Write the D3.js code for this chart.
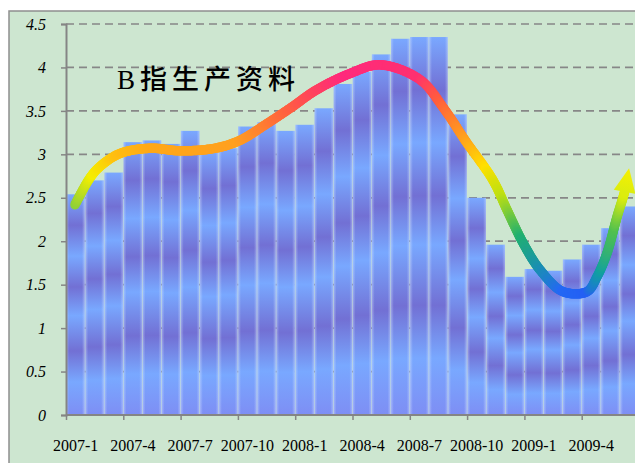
<!DOCTYPE html>
<html>
<head>
<meta charset="utf-8">
<script src="https://cdn.jsdelivr.net/npm/d3@7"></script>
<style>
  body { margin: 0; background: #fff; }
  svg { display: block; }
</style>
</head>
<body>
<div id="chart"></div>
<script>
// months shown on the x axis (one bar each)
var months = ["2007-1","2007-2","2007-3","2007-4","2007-5","2007-6","2007-7","2007-8","2007-9",
  "2007-10","2007-11","2007-12","2008-1","2008-2","2008-3","2008-4","2008-5","2008-6",
  "2008-7","2008-8","2008-9","2008-10","2008-11","2008-12","2009-1","2009-2","2009-3",
  "2009-4","2009-5","2009-6"];

// bar heights
var values = [2.54, 2.70, 2.79, 3.14, 3.16, 3.12, 3.27, 3.03, 3.07,
  3.32, 3.37, 3.27, 3.34, 3.53, 3.81, 3.95, 4.15, 4.33,
  4.35, 4.35, 3.46, 2.50, 1.96, 1.59, 1.68, 1.66, 1.79,
  1.96, 2.15, 2.40];

var yTicks = [0, 0.5, 1, 1.5, 2, 2.5, 3, 3.5, 4, 4.5];

// hand drawn trend arrow: [month position, value]
var trendPos = [0.47, 1.26, 1.78, 2.83, 4.4, 6.0, 7.8, 9.1, 10.5, 11.8, 13.1, 14.87, 16.44,
  18.53, 19.84, 20.9, 22.36, 23.09, 23.93, 24.82, 26.02, 27.28, 27.8, 28.32, 28.85, 29.27, 29.48];
var trendVal = [2.42, 2.73, 2.86, 3.01, 3.07, 3.04, 3.07, 3.16, 3.35, 3.54, 3.74, 3.93, 4.03,
  3.86, 3.51, 3.16, 2.7, 2.36, 1.98, 1.67, 1.42, 1.42, 1.59, 1.86, 2.28, 2.59, 2.84];

// rainbow colours along the arrow
var colorPos = [0.47, 1.4, 2.6, 4.5, 9, 11.7, 13.2, 14.6, 18.5, 19.5, 20.8, 22, 22.8, 23.8, 24.8, 26, 27.3, 28, 28.7, 29.2, 29.5];
var colorVal = ["#8ccf3a","#f5ef00","#ffc010","#ffa818","#ffa020","#ff6040","#ff4060","#ff2a7c","#ff3070",
  "#ff5a40","#ff9a20","#ffe000","#c0e010","#20b070","#1a90b0","#2468f4","#2460f4","#10a0a0","#50c050","#d8ec10","#f8f000"];

var W = 635, H = 463;
var left = 66, top0 = 24, bottom = 415, bandW = 19.1;

var svg = d3.select("#chart").append("svg")
  .attr("width", W).attr("height", H);

var defs = svg.append("defs");

// bar texture: stretched horizontal bands
var g1 = defs.append("linearGradient").attr("id", "barFill")
  .attr("x1", 0).attr("y1", 1).attr("x2", 0).attr("y2", 0);
[[0, "#7e8ef4"], [0.15, "#79a8ff"], [0.29, "#7270d4"], [0.45, "#79a8ff"], [0.58, "#7270d4"],
 [0.72, "#79a8ff"], [0.86, "#7270d4"], [1, "#7aa8ff"]].forEach(function(s) {
  g1.append("stop").attr("offset", s[0]).attr("stop-color", s[1]);
});
var g2 = defs.append("linearGradient").attr("id", "barEdge")
  .attr("x1", 0).attr("y1", 0).attr("x2", 1).attr("y2", 0);
[[0, 0.4], [0.15, 0], [0.85, 0], [1, 0.4]].forEach(function(s) {
  g2.append("stop").attr("offset", s[0]).attr("stop-color", "#dce8ff").attr("stop-opacity", s[1]);
});

// frame
svg.append("rect").attr("x", 9).attr("y", 11).attr("width", W).attr("height", H)
  .attr("fill", "#cde6d0").attr("stroke", "#8f8f8f").attr("stroke-width", 1.5);

var x = d3.scaleBand().domain(months)
  .range([left, left + months.length * bandW]).paddingInner(0.03).paddingOuter(0.015);
var xi = d3.scaleLinear().domain([0, months.length]).range([left, left + months.length * bandW]);
var y = d3.scaleLinear().domain([0, 4.5]).range([bottom, top0]);

// dashed grid
svg.append("g").selectAll("line")
  .data(yTicks.filter(function(d) { return d > 0; }))
  .enter().append("line")
  .attr("x1", left).attr("x2", W)
  .attr("y1", function(d) { return y(d); }).attr("y2", function(d) { return y(d); })
  .attr("stroke", "#878787").attr("stroke-width", 1.7)
  .attr("stroke-dasharray", "8,5");

// bars
var bars = svg.append("g");
bars.selectAll("rect.bar").data(values).enter().append("rect")
  .attr("class", "bar")
  .attr("x", function(d, i) { return x(months[i]); })
  .attr("width", x.bandwidth())
  .attr("y", function(d) { return y(d); })
  .attr("height", function(d) { return bottom - y(d); })
  .attr("fill", "url(#barFill)");
bars.selectAll("rect.edge").data(values).enter().append("rect")
  .attr("class", "edge")
  .attr("x", function(d, i) { return x(months[i]); })
  .attr("width", x.bandwidth())
  .attr("y", function(d) { return y(d); })
  .attr("height", function(d) { return bottom - y(d); })
  .attr("fill", "url(#barEdge)");

// y axis
var yAxis = svg.append("g").attr("transform", "translate(" + left + ",0)")
  .call(d3.axisLeft(y).tickValues(yTicks).tickSize(5).tickPadding(15)
    .tickFormat(function(d) { return String(d); }));
yAxis.select(".domain").attr("stroke", "#858585").attr("stroke-width", 2);
yAxis.selectAll(".tick line").attr("stroke", "#858585").attr("stroke-width", 1.5);
yAxis.selectAll("text").attr("fill", "#000")
  .style("font-family", "'Liberation Serif', serif").style("font-style", "italic")
  .style("font-size", "16px");

// x axis: tick marks every 3 months at band edges
var tickIdx = d3.range(0, months.length + 1, 3);
var xAxis = svg.append("g").attr("transform", "translate(0," + bottom + ")")
  .call(d3.axisBottom(xi).tickValues(tickIdx).tickSize(5).tickFormat(""));
xAxis.select(".domain").attr("d", "M" + left + ",0H" + W)
  .attr("stroke", "#858585").attr("stroke-width", 2);
xAxis.selectAll(".tick line").attr("stroke", "#858585").attr("stroke-width", 1.5);

svg.append("g").selectAll("text")
  .data(months.filter(function(d, i) { return i % 3 === 0; }))
  .enter().append("text")
  .attr("x", function(d) { return x(d) + x.bandwidth() / 2; })
  .attr("y", 451)
  .attr("text-anchor", "middle")
  .style("font-family", "'Liberation Serif', serif")
  .style("font-size", "16px")
  .text(function(d) { return d; });

// trend arrow
var pts = trendPos.map(function(p, i) { return [xi(p), y(trendVal[i])]; });
var line = d3.line().curve(d3.curveCatmullRom.alpha(0.5));
var guide = svg.append("path").attr("d", line(pts)).attr("fill", "none").attr("stroke", "none");
var node = guide.node();
var len = node.getTotalLength();
var col = d3.scaleLinear().domain(colorPos).range(colorVal).clamp(true);
var headLen = 24;
var step = 1.5;
var samples = d3.range(0, len - headLen + step, step).map(function(l) {
  var p = node.getPointAtLength(Math.min(l, len - headLen));
  return [p.x, p.y];
});
var trend = svg.append("g");
for (var k = 0; k < samples.length - 1; k++) {
  var a = samples[k], b = samples[k + 1];
  trend.append("line")
    .attr("x1", a[0]).attr("y1", a[1]).attr("x2", b[0]).attr("y2", b[1])
    .attr("stroke", col(xi.invert((a[0] + b[0]) / 2)))
    .attr("stroke-width", 9.5).attr("stroke-linecap", "round");
}
// arrow head
var tip = node.getPointAtLength(len);
var base = node.getPointAtLength(len - headLen);
var dx = tip.x - base.x, dy = tip.y - base.y, dl = Math.sqrt(dx * dx + dy * dy);
var nx = -dy / dl * 11, ny = dx / dl * 11;
var headGrad = defs.append("linearGradient").attr("id", "headFill")
  .attr("gradientUnits", "userSpaceOnUse")
  .attr("x1", base.x).attr("y1", base.y).attr("x2", tip.x).attr("y2", tip.y);
headGrad.append("stop").attr("offset", 0).attr("stop-color", col(xi.invert(base.x)));
headGrad.append("stop").attr("offset", 1).attr("stop-color", "#f8f000");
trend.append("path")
  .attr("d", "M" + (base.x + nx) + "," + (base.y + ny) + "L" + tip.x + "," + tip.y +
    "L" + (base.x - nx) + "," + (base.y - ny) + "Z")
  .attr("fill", "url(#headFill)");

// title
svg.append("text")
  .attr("x", 117).attr("y", 89)
  .style("font-family", "'Liberation Serif', 'Noto Sans CJK SC', serif")
  .style("font-size", "27px")
  .style("font-weight", "500")
  .style("letter-spacing", "5px")
  .attr("fill", "#000")
  .text("B指生产资料");
</script>
</body>
</html>
